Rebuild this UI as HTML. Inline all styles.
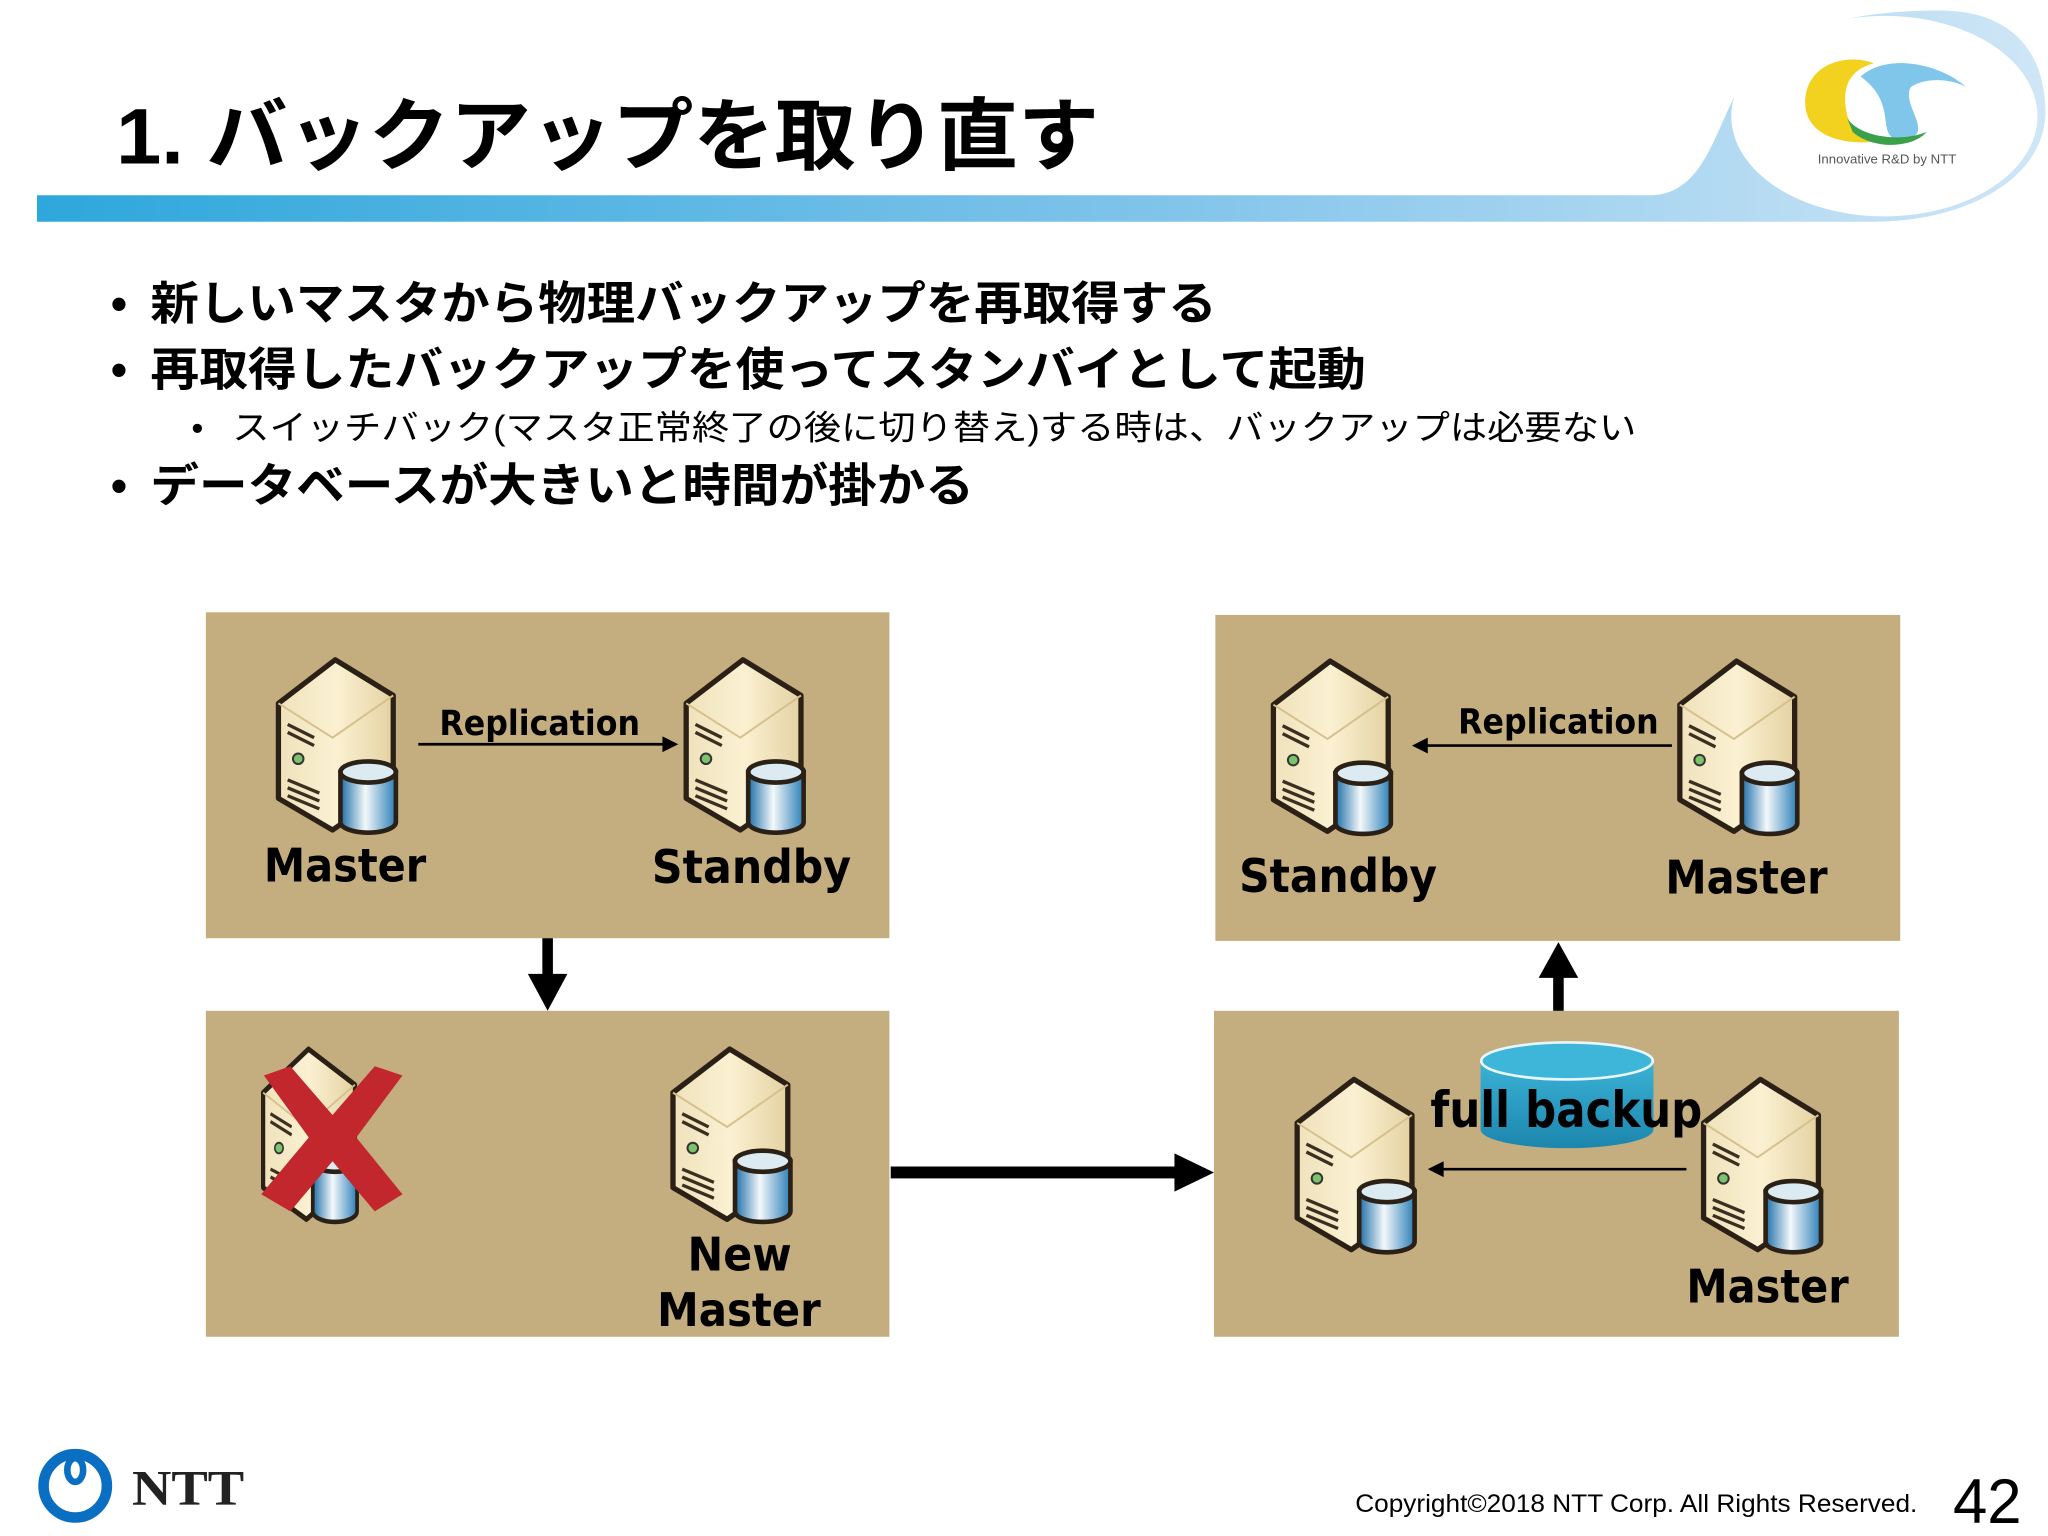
<!DOCTYPE html>
<html><head><meta charset="utf-8">
<style>
html,body{margin:0;padding:0;background:#fff;}
svg{display:block;}
.jp{font-family:"Liberation Sans","Noto Sans CJK JP",sans-serif;}
.lb{font-family:"DejaVu Sans","Liberation Sans",sans-serif;font-weight:bold;fill:#000;}
</style></head><body>
<svg width="2048" height="1536" viewBox="0 0 1552 1164" xmlns="http://www.w3.org/2000/svg">
<defs>
  <linearGradient id="bar" x1="0" x2="1" y1="0" y2="0">
    <stop offset="0" stop-color="#2ea7dc"/>
    <stop offset="0.55" stop-color="#7fc3ea"/>
    <stop offset="1" stop-color="#cfe6f6"/>
  </linearGradient>
  <linearGradient id="tw" x1="0" x2="1" y1="0" y2="0">
    <stop offset="0" stop-color="#efe2bb"/>
    <stop offset="0.5" stop-color="#fbf1d2"/>
    <stop offset="1" stop-color="#e4d2a2"/>
  </linearGradient>
  <linearGradient id="cy" x1="0" x2="1" y1="0" y2="0">
    <stop offset="0" stop-color="#1d6ea8"/>
    <stop offset="0.45" stop-color="#f4f8fa"/>
    <stop offset="1" stop-color="#2b7fb8"/>
  </linearGradient>
  <linearGradient id="bk" x1="0" x2="0" y1="0" y2="1">
    <stop offset="0" stop-color="#3bb2d6"/>
    <stop offset="1" stop-color="#1c86ad"/>
  </linearGradient>
  <g id="srv">
    <path d="M3,36 L46,3 L90,30 L90,100 L44,132 L3,108 Z" fill="url(#tw)" stroke="#2a2016" stroke-width="4" stroke-linejoin="round"/>
    <path d="M3,36 L44,62 L90,30" fill="none" stroke="#d6c08c" stroke-width="1.5"/>
    <path d="M10,52 L30,62 M10,58 L30,68" stroke="#3a2f20" stroke-width="2.5"/>
    <circle cx="18" cy="78" r="4" fill="#7cc36b" stroke="#333" stroke-width="1.5"/>
    <path d="M10,94 L34,104 M10,100 L34,110 M10,106 L34,116" stroke="#3a2f20" stroke-width="2.5"/>
    <path d="M50,88 L50,126 A21,8 0 0 0 92,126 L92,88 Z" fill="url(#cy)" stroke="#2a2016" stroke-width="3.5"/>
    <ellipse cx="71" cy="88" rx="21" ry="8" fill="#dceaf2" stroke="#2a2016" stroke-width="3.5"/>
  </g>
</defs>

<!-- header -->
<path d="M28,148 L1250,148 C1295,148 1300,90 1325,55 C1355,15 1420,8 1470,8 C1525,8 1550,40 1550,85 C1550,135 1490,168 1420,168 L28,168 Z" fill="url(#bar)"/>
<ellipse cx="1428" cy="88" rx="116" ry="76" fill="#fff"/>
<path d="M1368,78 C1368,48 1400,40 1420,48 C1404,52 1394,64 1400,88 C1404,100 1418,106 1430,106 C1400,112 1368,104 1368,78 Z" fill="#f2d21f"/>
<path d="M1410,58 C1430,40 1470,48 1490,66 C1480,60 1460,58 1448,66 C1440,80 1470,104 1440,106 C1420,104 1440,80 1410,58 Z" fill="#7fc6ea"/>
<path d="M1400,90 C1410,104 1440,108 1460,100 C1450,112 1420,114 1404,100 Z" fill="#3aa14a"/>
<text x="1430" y="124" text-anchor="middle" font-family="Liberation Sans,sans-serif" font-size="10" fill="#555">Innovative R&amp;D by NTT</text>

<text x="88" y="124" class="jp" font-size="60" font-weight="bold" fill="#000" textLength="745" lengthAdjust="spacingAndGlyphs">1. バックアップを取り直す</text>

<!-- bullets -->
<g class="jp" font-weight="bold" font-size="35" fill="#000">
  <text x="84" y="242">•</text><text x="114" y="242" textLength="808" lengthAdjust="spacingAndGlyphs">新しいマスタから物理バックアップを再取得する</text>
  <text x="84" y="292">•</text><text x="114" y="292" textLength="921" lengthAdjust="spacingAndGlyphs">再取得したバックアップを使ってスタンバイとして起動</text>
  <text x="84" y="380">•</text><text x="114" y="380" textLength="624" lengthAdjust="spacingAndGlyphs">データベースが大きいと時間が掛かる</text>
</g>
<g class="jp" font-size="26" fill="#000">
  <text x="145" y="333">•</text><text x="176" y="333" textLength="1064" lengthAdjust="spacingAndGlyphs">スイッチバック(マスタ正常終了の後に切り替え)する時は、バックアップは必要ない</text>
</g>

<!-- boxes -->
<rect x="156" y="464" width="518" height="247" fill="#c4ad7e"/>
<rect x="921" y="466" width="519" height="247" fill="#c4ad7e"/>
<rect x="156" y="766" width="518" height="247" fill="#c4ad7e"/>
<rect x="920" y="766" width="519" height="247" fill="#c4ad7e"/>

<!-- box1 -->
<use href="#srv" x="208" y="497"/>
<use href="#srv" x="517" y="497"/>
<text x="333" y="557" class="lb" font-size="26" textLength="152" lengthAdjust="spacingAndGlyphs">Replication</text>
<line x1="317" y1="564" x2="504" y2="564" stroke="#000" stroke-width="2"/>
<path d="M514,564 L502,558 L502,570 Z" fill="#000"/>
<text x="200" y="668" class="lb" font-size="35" textLength="123" lengthAdjust="spacingAndGlyphs">Master</text>
<text x="494" y="669" class="lb" font-size="35" textLength="151" lengthAdjust="spacingAndGlyphs">Standby</text>

<!-- box2 -->
<use href="#srv" x="962" y="498"/>
<use href="#srv" x="1270" y="498"/>
<text x="1105" y="556" class="lb" font-size="26" textLength="152" lengthAdjust="spacingAndGlyphs">Replication</text>
<line x1="1080" y1="565" x2="1267" y2="565" stroke="#000" stroke-width="2"/>
<path d="M1070,565 L1082,559 L1082,571 Z" fill="#000"/>
<text x="939" y="676" class="lb" font-size="35" textLength="150" lengthAdjust="spacingAndGlyphs">Standby</text>
<text x="1262" y="677" class="lb" font-size="35" textLength="123" lengthAdjust="spacingAndGlyphs">Master</text>

<!-- box3 -->
<g transform="translate(197,792) scale(0.8,1)"><use href="#srv"/></g>
<path d="M200,815 L220,808 L252,845 L284,808 L305,815 L270,862 L305,905 L284,918 L252,880 L220,918 L198,905 L234,862 Z" fill="#c1272d"/>
<use href="#srv" x="507" y="792"/>
<text x="521" y="963" class="lb" font-size="35" textLength="79" lengthAdjust="spacingAndGlyphs">New</text>
<text x="498" y="1005" class="lb" font-size="35" textLength="124" lengthAdjust="spacingAndGlyphs">Master</text>

<!-- box4 -->
<use href="#srv" x="980" y="815"/>
<use href="#srv" x="1288" y="815"/>
<path d="M1122,804 L1122,856 A65,14 0 0 0 1253,856 L1253,804 Z" fill="url(#bk)"/>
<ellipse cx="1187.5" cy="804" rx="65" ry="14" fill="#3db6da" stroke="#e8f6fb" stroke-width="2"/>
<text x="1084" y="854" class="lb" font-size="38" textLength="206" lengthAdjust="spacingAndGlyphs">full backup</text>
<line x1="1092" y1="886" x2="1278" y2="886" stroke="#000" stroke-width="2"/>
<path d="M1082,886 L1094,880 L1094,892 Z" fill="#000"/>
<text x="1278" y="987" class="lb" font-size="35" textLength="123" lengthAdjust="spacingAndGlyphs">Master</text>

<!-- big arrows -->
<rect x="411" y="711" width="8" height="30" fill="#000"/>
<path d="M400,738 L430,738 L415,766 Z" fill="#000"/>
<rect x="675" y="884" width="220" height="9" fill="#000"/>
<path d="M890,874 L920,888.5 L890,903 Z" fill="#000"/>
<rect x="1177" y="738" width="8" height="28" fill="#000"/>
<path d="M1166,741 L1196,741 L1181,714 Z" fill="#000"/>

<!-- footer -->
<circle cx="57" cy="1126" r="24" fill="none" stroke="#0a6fc2" stroke-width="8"/>
<ellipse cx="57" cy="1114" rx="6" ry="9" fill="none" stroke="#0a6fc2" stroke-width="5"/>
<text x="100" y="1140" font-family="Liberation Serif,serif" font-weight="bold" font-size="38" fill="#222" textLength="85" lengthAdjust="spacingAndGlyphs">NTT</text>
<text x="1027" y="1146" font-family="Liberation Sans,sans-serif" font-size="19" fill="#000" textLength="426" lengthAdjust="spacingAndGlyphs">Copyright©2018  NTT Corp. All Rights Reserved.</text>
<text x="1480" y="1154" font-family="Liberation Sans,sans-serif" font-size="48" fill="#000" textLength="52" lengthAdjust="spacingAndGlyphs">42</text>
</svg>
</body></html>
